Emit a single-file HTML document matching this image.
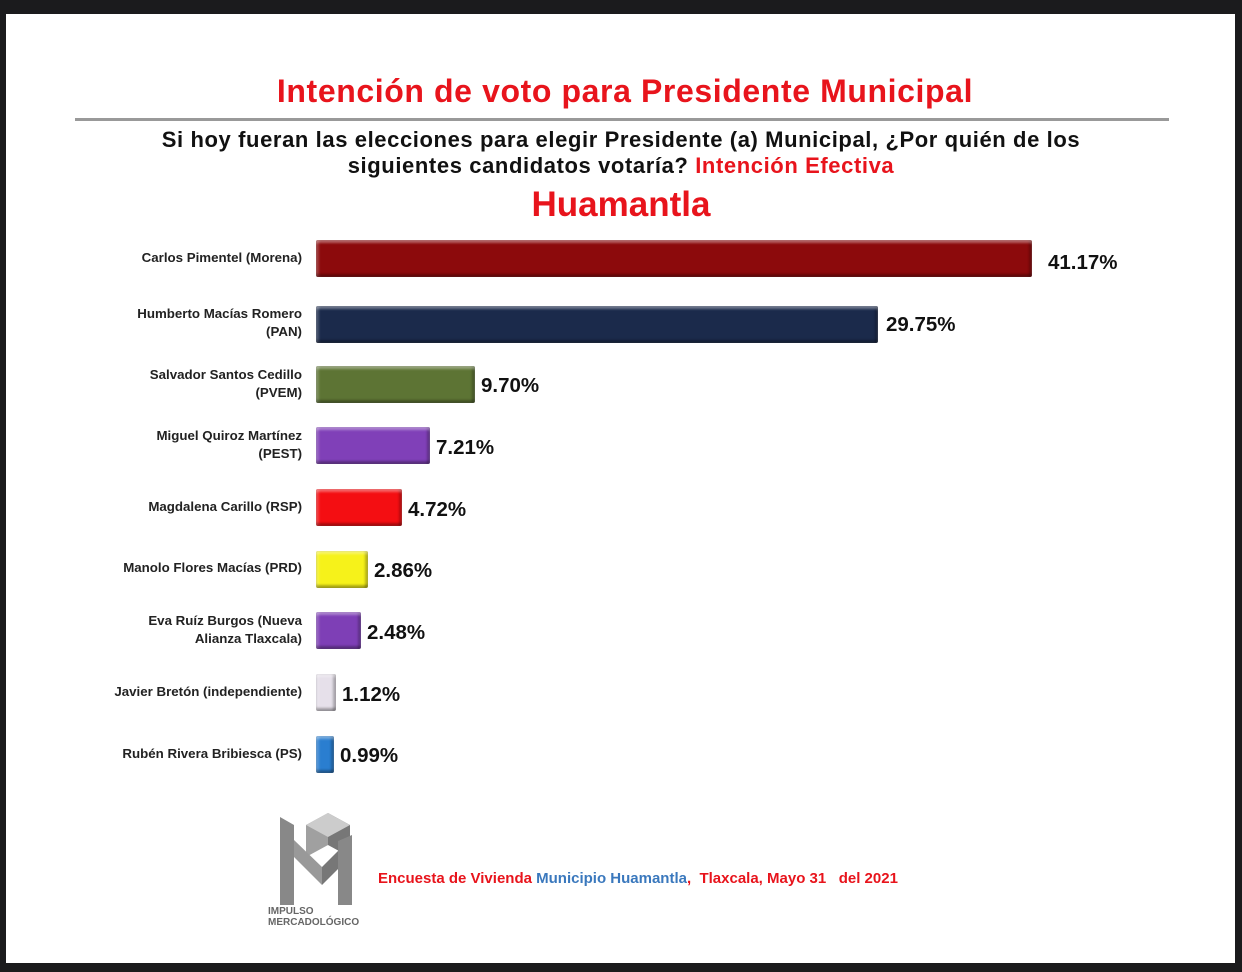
<!DOCTYPE html>
<html><head><meta charset="utf-8"><style>
body{margin:0;width:1242px;height:972px;background:#1b1b1d;position:relative;overflow:hidden;font-family:"Liberation Sans",sans-serif}
#pg{position:absolute;left:6px;top:14px;width:1229px;height:949px;background:#fff}
.a{position:absolute;white-space:nowrap}
.bar{position:absolute;left:316px;height:37px;border-radius:2px;box-shadow:inset 0 3px 2px rgba(255,255,255,.35),inset 0 -3px 2px rgba(0,0,0,.3),inset 3px 0 2px rgba(255,255,255,.2),inset -3px 0 2px rgba(0,0,0,.25)}
.lb{position:absolute;right:940px;width:240px;text-align:right;font-size:13.3px;font-weight:bold;color:#222;line-height:18px}
.v{position:absolute;font-size:20.5px;font-weight:bold;color:#111}
</style></head><body><div id="pg"></div>
<div class="a" style="left:0;width:1242px;text-align:center;top:73px;font-size:32px;letter-spacing:0.6px;font-weight:bold;color:#e8141c;padding-left:4px">Intención de voto para Presidente Municipal</div>
<div class="a" style="left:75px;top:118px;width:1094px;height:3px;background:#999"></div>
<div class="a" style="left:0;width:1242px;text-align:center;top:127px;font-size:22px;letter-spacing:0.6px;font-weight:bold;color:#111;line-height:26px">Si hoy fueran las elecciones para elegir Presidente (a) Municipal, ¿Por quién de los<br>siguientes candidatos votaría? <span style="color:#e8141c">Intención Efectiva</span></div>
<div class="a" style="left:0;width:1242px;text-align:center;top:185px;font-size:35px;font-weight:bold;color:#e8141c">Huamantla</div>

<div class="bar" style="top:240px;width:716px;background:#8c0a0c"></div>
<div class="lb" style="top:249px">Carlos Pimentel (Morena)</div><div class="v" style="left:1048px;top:251px">41.17%</div>
<div class="bar" style="top:306px;width:562px;background:#1b2a4b"></div>
<div class="lb" style="top:305px">Humberto Macías Romero<br>(PAN)</div><div class="v" style="left:886px;top:313px">29.75%</div>
<div class="bar" style="top:366px;width:159px;background:#5d7434"></div>
<div class="lb" style="top:366px">Salvador Santos Cedillo<br>(PVEM)</div><div class="v" style="left:481px;top:374px">9.70%</div>
<div class="bar" style="top:427px;width:114px;background:#8040b8"></div>
<div class="lb" style="top:427px">Miguel Quiroz Martínez<br>(PEST)</div><div class="v" style="left:436px;top:436px">7.21%</div>
<div class="bar" style="top:489px;width:86px;background:#f40e12"></div>
<div class="lb" style="top:498px">Magdalena Carillo (RSP)</div><div class="v" style="left:408px;top:498px">4.72%</div>
<div class="bar" style="top:551px;width:52px;background:#f6f21a"></div>
<div class="lb" style="top:559px">Manolo Flores Macías (PRD)</div><div class="v" style="left:374px;top:559px">2.86%</div>
<div class="bar" style="top:612px;width:45px;background:#7e3fb6"></div>
<div class="lb" style="top:612px">Eva Ruíz Burgos (Nueva<br>Alianza Tlaxcala)</div><div class="v" style="left:367px;top:621px">2.48%</div>
<div class="bar" style="top:674px;width:20px;background:#e6e0ea"></div>
<div class="lb" style="top:683px">Javier Bretón (independiente)</div><div class="v" style="left:342px;top:683px">1.12%</div>
<div class="bar" style="top:736px;width:18px;background:#2a7ed0"></div>
<div class="lb" style="top:745px">Rubén Rivera Bribiesca (PS)</div><div class="v" style="left:340px;top:744px">0.99%</div>

<svg class="a" style="left:276px;top:795px" width="80" height="110">
<polygon points="30,30 52,18 52,50 30,62" fill="#a0a0a0"/><polygon points="52,18 74,30 74,62 52,50" fill="#777"/><polygon points="30,30 52,18 74,30 52,42" fill="#ccc"/>
<polygon points="4,22 18,30 18,115 4,115" fill="#888"/><polygon points="62,46 76,40 76,115 62,115" fill="#888"/>
<polygon points="18,45 46,72 46,90 18,62" fill="#999"/><polygon points="46,72 62,56 62,74 46,90" fill="#777"/>
</svg>
<div class="a" style="left:268px;top:906px;font-size:10px;font-weight:bold;color:#666;line-height:11px">IMPULSO<br>MERCADOLÓGICO</div>
<div class="a" style="left:378px;top:870px;font-size:15px;font-weight:bold;color:#e8141c">Encuesta de Vivienda <span style="color:#3a78bd">Municipio Huamantla</span>,&nbsp; Tlaxcala, Mayo 31 &nbsp; del 2021</div>
</body></html>
